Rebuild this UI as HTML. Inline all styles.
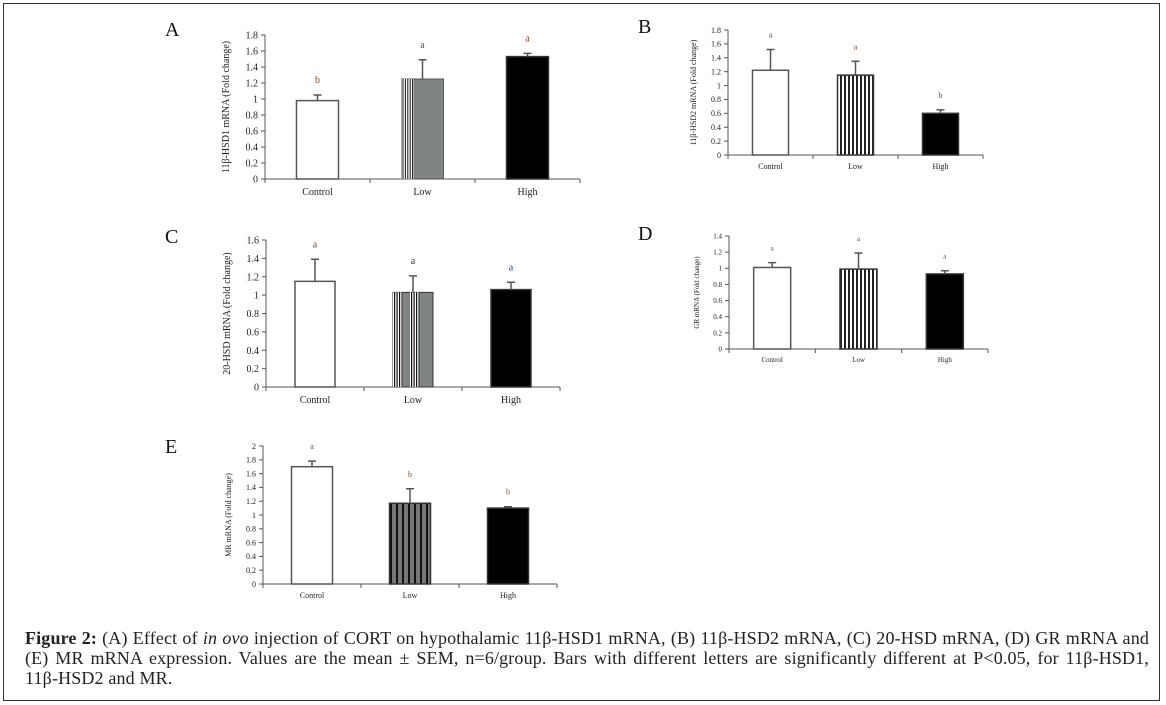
<!DOCTYPE html>
<html><head><meta charset="utf-8"><style>
html,body{margin:0;padding:0;background:#fff;}
body{width:1166px;height:705px;position:relative;overflow:hidden;font-family:"Liberation Serif",serif;}
#frame{position:absolute;left:3px;top:3px;width:1157px;height:698px;border:1px solid #333;box-sizing:border-box;}
#caption{position:absolute;left:25px;top:629px;width:1124px;font-size:18px;letter-spacing:0.15px;line-height:19.8px;color:#222;text-align:justify;}
.nw{white-space:nowrap;}
svg{position:absolute;left:0;top:0;}
</style></head><body>
<div id="frame"></div>
<svg id="chart" width="1166" height="705">
<defs>
<pattern id="stripe" width="4" height="10" patternUnits="userSpaceOnUse"><rect width="4" height="10" fill="#fff"/><rect width="2" height="10" fill="#222"/></pattern>
<pattern id="stripeE" width="6" height="10" patternUnits="userSpaceOnUse"><rect width="6" height="10" fill="#777"/><rect width="2" height="10" fill="#111"/></pattern>
</defs>
</svg>
<div id="caption"><span style="font-weight:600">Figure 2:</span> (A) Effect of <i>in ovo</i> injection of CORT on hypothalamic <span class="nw">11β-HSD1</span> mRNA, (B) <span class="nw">11β-HSD2</span> mRNA, (C) <span class="nw">20-HSD</span> mRNA, (D) GR mRNA and (E) MR mRNA expression. Values are the mean ± SEM, n=6/group. Bars with different letters are significantly different at P&lt;0.05, for <span class="nw">11β-HSD1,</span> <span class="nw">11β-HSD2</span> and MR.</div>
<script>
const categories = ["Control","Low","High"];
const meansA = [0.98,1.25,1.53];
const errA = [0.07,0.24,0.04];
const lettersA = ["b","a","a"];
const meansB = [1.22,1.15,0.60];
const errB = [0.30,0.20,0.05];
const lettersB = ["a","a","b"];
const meansC = [1.15,1.03,1.06];
const errC = [0.24,0.18,0.08];
const lettersC = ["a","a","a"];
const meansD = [1.01,0.99,0.93];
const errD = [0.06,0.20,0.04];
const lettersD = ["a","a","a"];
const meansE = [1.70,1.17,1.10];
const errE = [0.08,0.21,0.02];
const lettersE = ["a","b","b"];
const ticksA = ["0","0.2","0.4","0.6","0.8","1","1.2","1.4","1.6","1.8"];
const ticksB = ["0","0.2","0.4","0.6","0.8","1","1.2","1.4","1.6","1.8"];
const ticksC = ["0","0.2","0.4","0.6","0.8","1","1.2","1.4","1.6"];
const ticksD = ["0","0.2","0.4","0.6","0.8","1","1.2","1.4"];
const ticksE = ["0","0.2","0.4","0.6","0.8","1","1.2","1.4","1.6","1.8","2"];

const NS="http://www.w3.org/2000/svg";
const svg=document.getElementById('chart');
function mk(tag,attrs,parent){const e=document.createElementNS(NS,tag);for(const k in attrs)e.setAttribute(k,attrs[k]);(parent||svg).appendChild(e);return e;}

const panels=[
 {id:'a',label:'A',lx:165,ly:36,x0:265,x1:580,yTop:35,yBot:179,means:meansA,err:errA,letters:lettersA,ticks:ticksA,title:'11β-HSD1 mRNA (Fold change)',fs:10,bw:42,fills:['#fff','low-a','#000'],lc:['#7a4a2a','#7a4a2a','#7a4a2a']},
 {id:'b',label:'B',lx:638,ly:33,x0:728,x1:983,yTop:30,yBot:155,means:meansB,err:errB,letters:lettersB,ticks:ticksB,title:'11β-HSD2 mRNA (Fold change)',fs:8,bw:36,fills:['#fff','url(#stripe)','#000'],lc:['#7a4a2a','#7a4a2a','#7a4a2a']},
 {id:'c',label:'C',lx:165,ly:243,x0:266,x1:560,yTop:240,yBot:387,means:meansC,err:errC,letters:lettersC,ticks:ticksC,title:'20-HSD mRNA (Fold change)',fs:10,bw:40,fills:['#fff','low-c','#000'],lc:['#7a4a2a','#333','#1a4a8a']},
 {id:'d',label:'D',lx:638,ly:240,x0:729,x1:988,yTop:236,yBot:349,means:meansD,err:errD,letters:lettersD,ticks:ticksD,title:'GR mRNA (Fold change)',fs:7,bw:37,fills:['#fff','url(#stripe)','#000'],lc:['#7a4a2a','#7a4a2a','#7a4a2a']},
 {id:'e',label:'E',lx:165,ly:453,x0:263,x1:557,yTop:446,yBot:584,means:meansE,err:errE,letters:lettersE,ticks:ticksE,title:'MR mRNA (Fold change)',fs:8,bw:41,fills:['#fff','url(#stripeE)','#000'],lc:['#7a4a2a','#7a4a2a','#7a4a2a']}
];

panels.forEach(p=>{
  const g=mk('g',{});
  
  
  const lab=mk('text',{x:p.lx,y:p.ly,'font-size':20,'font-family':'Liberation Serif, serif',fill:'#111'},g);
  lab.textContent=p.label;
  
  
  const maxV=parseFloat(p.ticks[p.ticks.length-1]);
  const y=v=>p.yBot-(v/maxV)*(p.yBot-p.yTop);
  const cw=(p.x1-p.x0)/categories.length;
  const xc=i=>p.x0+cw*(i+0.5);
  const ya=mk('line',{x1:p.x0,y1:p.yTop,x2:p.x0,y2:p.yBot,stroke:'#555','stroke-width':1},g);
  
  
  p.ticks.forEach(t=>{
    const v=parseFloat(t),yy=y(v);
    mk('line',{x1:p.x0-4,y1:yy,x2:p.x0,y2:yy,stroke:'#555'},g);
    const tt=mk('text',{x:p.x0-7,y:yy+p.fs*0.35,'font-size':p.fs,'text-anchor':'end',fill:'#222'},g);
    tt.textContent=t;
    
    
  });
  const xa=mk('line',{x1:p.x0,y1:p.yBot,x2:p.x1,y2:p.yBot,stroke:'#555'},g);
  
  
  for(let i=0;i<=categories.length;i++){const xx=p.x0+cw*i;mk('line',{x1:xx,y1:p.yBot,x2:xx,y2:p.yBot+4,stroke:'#555'},g);}
  categories.forEach((c,i)=>{
    const ct=mk('text',{x:xc(i),y:p.yBot+14+(p.fs-8),'font-size':p.fs,'text-anchor':'middle',fill:'#222'},g);
    ct.textContent=c;
    
    
  });
  const ym=(p.yTop+p.yBot)/2, tx=p.x0-32-(p.fs-8)*2;
  const yt=mk('text',{x:tx,y:ym,'font-size':p.fs,'text-anchor':'middle',fill:'#222',transform:`rotate(-90 ${tx} ${ym})`},g);
  yt.textContent=p.title;
  
  
  p.means.forEach((m,i)=>{
    const bx=xc(i)-p.bw/2, by=y(m), bh=p.yBot-by;
    const f=p.fills[i];
    let bar;
    if(f==='low-a'){
      bar=mk('rect',{x:bx,y:by,width:p.bw,height:bh,fill:'#808482',stroke:'#555'},g);
      mk('rect',{x:bx,y:by,width:12,height:bh,fill:'#fff'},g);
      for(let k=0;k<5;k++) mk('rect',{x:bx+1+k*2.4,y:by,width:1,height:bh,fill:'#111'},g);
    } else if(f==='low-c'){
      bar=mk('rect',{x:bx,y:by,width:p.bw,height:bh,fill:'#808482',stroke:'#333'},g);
      [0,17].forEach(o=>{mk('rect',{x:bx+o,y:by,width:10,height:bh,fill:'#fff'},g);for(let k=0;k<4;k++) mk('rect',{x:bx+o+1+k*2.5,y:by,width:1.2,height:bh,fill:'#111'},g);});
    } else {
      bar=mk('rect',{x:bx,y:by,width:p.bw,height:bh,fill:f,stroke:f==='#fff'?'#555':'#333','stroke-width':1.5},g);
    }
    
    
    const ey=y(m+p.err[i]);
    const eb=mk('path',{d:`M${xc(i)} ${by} V${ey} M${xc(i)-4} ${ey} H${xc(i)+4}`,stroke:'#555','stroke-width':1.5,fill:'none'},g);
    
    
    const lt=mk('text',{x:xc(i),y:ey-12,'font-size':p.fs,'text-anchor':'middle',fill:p.lc[i]},g);
    lt.textContent=p.letters[i];
    
    
  });
});
</script>
</body></html>
